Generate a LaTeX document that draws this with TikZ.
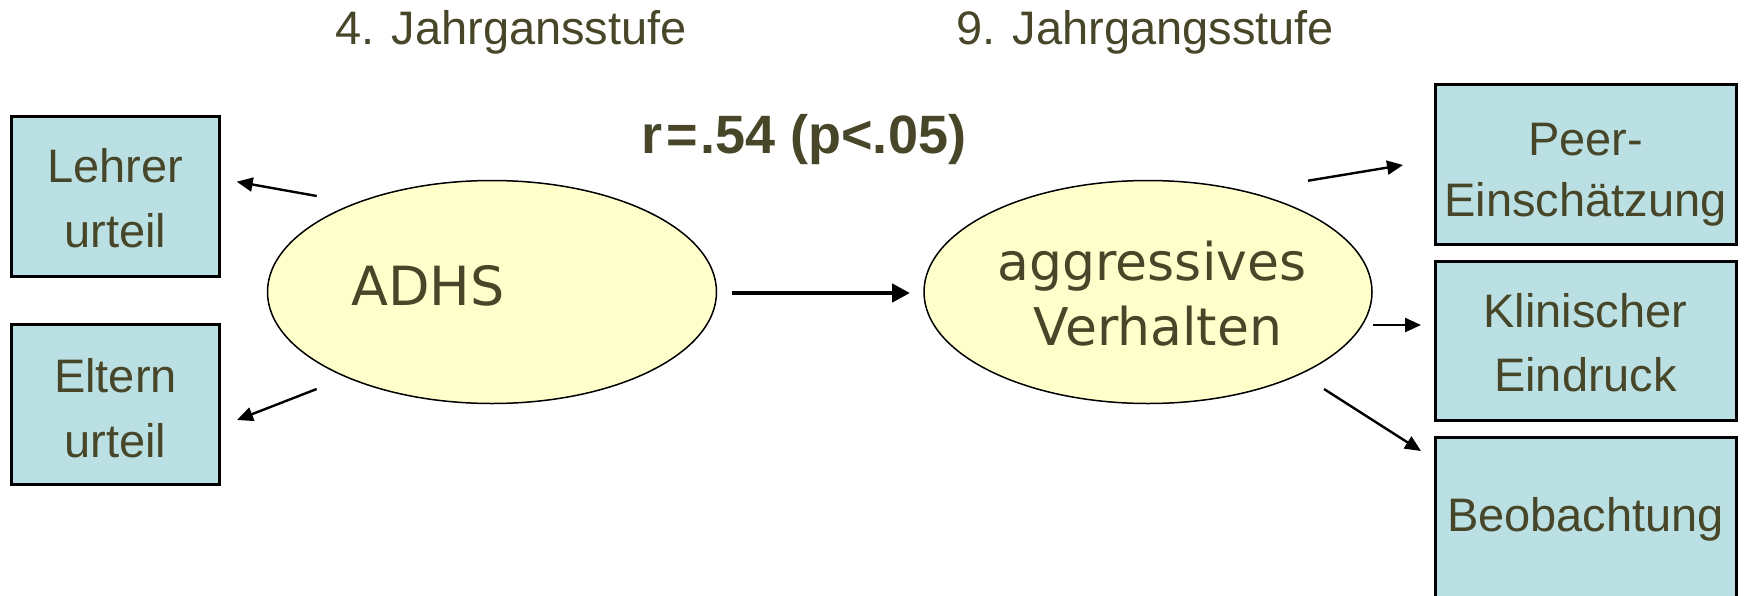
\documentclass[tikz,border=0pt]{standalone}
\usepackage{fontspec}
\setmainfont{Liberation Sans}
\newfontfamily\ellfont{DejaVu Sans}
\usetikzlibrary{shapes.geometric,arrows.meta}
\definecolor{txt}{RGB}{72,70,40}
\definecolor{boxblue}{RGB}{186,224,227}
\definecolor{ellyellow}{RGB}{255,255,204}
\tikzset{
  obsbox/.style={draw=black,line width=3pt,fill=boxblue},
  latent/.style={ellipse,draw=black,line width=1.5pt,fill=ellyellow,inner sep=0pt},
  boxtxt/.style={anchor=base,text=txt,font=\fontsize{47}{47}\selectfont,inner sep=0pt},
  elltxt/.style={anchor=base,text=txt,inner sep=0pt},
  head/.style={anchor=base,text=txt,font=\fontsize{47}{47}\selectfont,inner sep=0pt},
  smallarrow/.style={line width=2.4pt,-{Triangle[length=16pt,width=14pt]}},
  bigarrow/.style={line width=4.5pt,-{Triangle[length=18pt,width=18pt]}}
}
\begin{document}
\begin{tikzpicture}[x=1pt,y=-1pt]
\useasboundingbox (0,0) rectangle (1747,595);
% headings
\node[head] (h4) at (511,44) {4. Jahrgansstufe};
\node[head] (h9) at (1145,44) {9. Jahrgangsstufe};
\node[anchor=base,text=txt,font=\fontsize{54}{54}\selectfont\bfseries,inner sep=0pt] (r) at (804,153) {r\kern4pt=\kern2pt.54 (p<.05)};
% boxes
\node[obsbox,minimum width=208pt,minimum height=160pt,inner sep=0pt] (lehrer) at (115.5,196.5) {};
\node[obsbox,minimum width=208pt,minimum height=160pt,inner sep=0pt] (eltern) at (115.5,404.5) {};
\node[obsbox,minimum width=301pt,minimum height=160pt,inner sep=0pt] (peer) at (1585.5,164.5) {};
\node[obsbox,minimum width=301pt,minimum height=159pt,inner sep=0pt] (klin) at (1585.5,340.5) {};
\node[obsbox,minimum width=301pt,minimum height=180pt,inner sep=0pt] (beob) at (1585.5,527) {};
\node[boxtxt] (t1) at (115.5,182.7) {Lehrer};
\node[boxtxt] (t2) at (115.5,247.7) {urteil};
\node[boxtxt] (t3) at (115.5,392) {Eltern};
\node[boxtxt] (t4) at (115.5,457) {urteil};
\node[boxtxt] (t5) at (1585.5,155) {Peer-};
\node[boxtxt] (t6) at (1585.5,216) {Einschätzung};
\node[boxtxt] (t7) at (1585.5,327.6) {Klinischer};
\node[boxtxt] (t8) at (1585.5,391) {Eindruck};
\node[boxtxt] (t9) at (1585.5,531.7) {Beobachtung};
% ellipses
\node[latent,minimum width=449pt,minimum height=223pt] (adhs) at (492,292) {};
\node[latent,minimum width=448pt,minimum height=223pt] (agg) at (1148,292) {};
\node[elltxt,font=\ellfont\fontsize{54}{54}\selectfont] (ta) at (428,305.7) {ADHS};
\node[elltxt,font=\ellfont\fontsize{52}{52}\selectfont] (tb) at (1152,280) {aggressives};
\node[elltxt,font=\ellfont\fontsize{52}{52}\selectfont] (tc) at (1158,345) {Verhalten};
% arrow end points
\coordinate (a1s) at (316.7,196);
\coordinate (a1e) at (236.7,181.7);
\coordinate (a2s) at (316.7,389);
\coordinate (a2e) at (237,420);
\coordinate (ms) at (732,293);
\coordinate (me) at (910,293);
\coordinate (p1s) at (1308,180.7);
\coordinate (p1e) at (1403,165);
\coordinate (p2s) at (1373,325);
\coordinate (p2e) at (1421,325);
\coordinate (p3s) at (1324,389);
\coordinate (p3e) at (1421,451);
\draw[smallarrow] (a1s) -- (a1e);
\draw[smallarrow] (a2s) -- (a2e);
\draw[bigarrow] (ms) -- (me);
\draw[smallarrow] (p1s) -- (p1e);
\draw[smallarrow] (p2s) -- (p2e);
\draw[smallarrow] (p3s) -- (p3e);
\end{tikzpicture}
\end{document}
